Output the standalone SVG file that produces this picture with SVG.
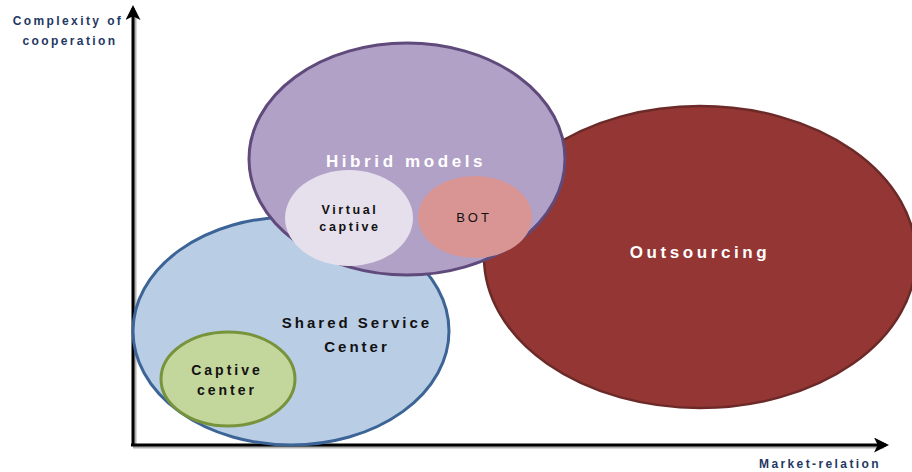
<svg xmlns="http://www.w3.org/2000/svg" width="912" height="472" viewBox="0 0 912 472">
<defs>
<style>
text{font-family:"Liberation Sans","Open Sans",sans-serif;font-weight:bold;text-anchor:middle}
.ax{fill:#1f3864;font-size:12px;letter-spacing:2.4px}
.wt{fill:#ffffff;font-size:17px;letter-spacing:3.6px}
.bk{fill:#111111;font-size:15px;letter-spacing:3px}
.sm{fill:#111111;font-size:12.5px;letter-spacing:2.6px}
.axis{stroke:#000;stroke-width:3;fill:none}
.shadow{stroke:#b0b0b0;stroke-width:3;fill:none}
</style>
<marker id="ah" viewBox="0 0 10 10" refX="8" refY="5" markerWidth="5" markerHeight="5" orient="auto" markerUnits="strokeWidth">
<path d="M0,0 L10,5 L0,10 L2.5,5 Z" fill="#000"/>
</marker>
</defs>
<g id="axes">
<path class="shadow" d="M135,447 L135,12 M133,447 L884,447"/>
<path class="axis" d="M133,445 L133,8" marker-end="url(#ah)"/>
<path class="axis" d="M131,445 L886,445" marker-end="url(#ah)"/>
<text class="ax" x="68" y="25">Complexity of</text>
<text class="ax" x="70" y="45">cooperation</text>
<text class="ax" x="820" y="468">Market-relation</text>
</g>
<g id="outsourcing">
<ellipse cx="700" cy="257" rx="216" ry="151" fill="#943634" stroke="#6b2a28" stroke-width="2.5"/>
<text class="wt" x="700" y="258">Outsourcing</text>
</g>
<g id="shared-service-center">
<ellipse cx="291" cy="331" rx="158" ry="114" fill="#b9cde5" stroke="#3c6496" stroke-width="3"/>
<text class="bk" x="357" y="328">Shared Service</text>
<text class="bk" x="357" y="352">Center</text>
</g>
<g id="hibrid-models">
<ellipse cx="407" cy="159" rx="158" ry="116" fill="#b2a1c7" stroke="#604a7b" stroke-width="3"/>
<text class="wt" x="406" y="167">Hibrid models</text>
</g>
<g id="virtual-captive">
<ellipse cx="349" cy="218" rx="64" ry="48" fill="#e5e0ec"/>
<text class="sm" x="350" y="214">Virtual</text>
<text class="sm" x="350" y="231">captive</text>
</g>
<g id="bot">
<ellipse cx="475" cy="217" rx="57" ry="41" fill="#d99594"/>
<text x="474" y="222" style="font-weight:normal;font-size:13px;letter-spacing:3px;fill:#111">BOT</text>
</g>
<g id="captive-center">
<ellipse cx="228" cy="379" rx="67" ry="47" fill="#c3d69b" stroke="#77933c" stroke-width="3"/>
<text class="bk" x="227" y="375" style="font-size:14px">Captive</text>
<text class="bk" x="227" y="395" style="font-size:14px">center</text>
</g>
</svg>
